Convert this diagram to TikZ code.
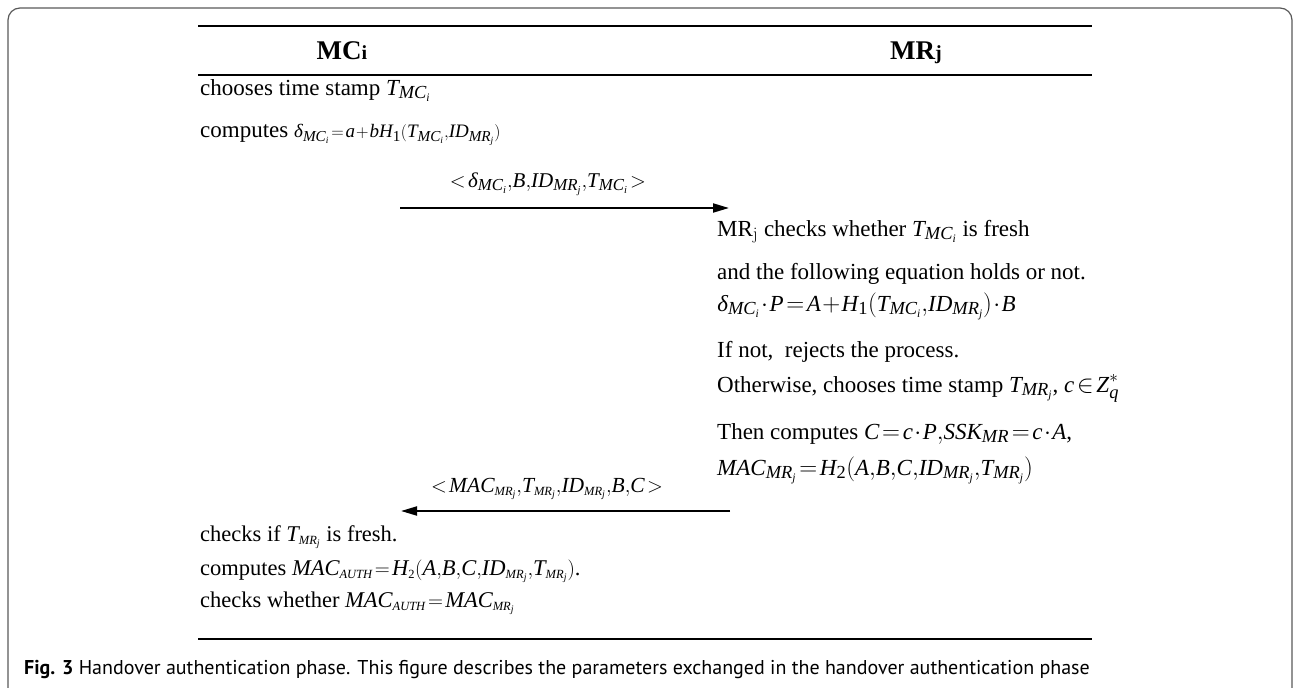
\documentclass[tikz,border=0pt]{standalone}
\usepackage{mathspec}
\setmainfont{Liberation Serif}
\setmathsfont(Digits,Latin,Greek){Liberation Serif}
\newfontfamily\capfont{PT Sans}
\renewcommand\defaultscriptratio{.8}
\DeclareMathSizes{22.5}{22.5}{12.5}{10}
\DeclareMathSizes{21.5}{21.5}{12.5}{10}
\usetikzlibrary{
  arrows.meta,
  positioning,
}
\newcommand\tightmath{\thinmuskip=0mu\medmuskip=1mu\thickmuskip=2mu}

\begin{document}
\begin{tikzpicture}[
  x=1pt, y=-1pt,
  every node/.style={inner sep=0pt},
  stepline/.style={anchor=base west, font=\fontsize{23}{27}\selectfont\tightmath},
  checkline/.style={anchor=base west, font=\fontsize{22.5}{27}\selectfont\tightmath},
  party/.style={anchor=base, font=\fontsize{27}{32}\selectfont\bfseries},
  msglabel/.style={anchor=base, font=\fontsize{21}{25}\selectfont\tightmath},
  rule/.style={line width=2.2pt},
  msg/.style={line width=2pt, -{Triangle[length=16pt,width=9pt]}},
  frame/.style={draw=gray!70!black, line width=1.2pt, rounded corners=12pt},
]
  \useasboundingbox (0,0) rectangle (1294,688);
  \draw[frame] (8,700) -- (8,8) -- (1292,8) -- (1292,700);

  % table rules
  \coordinate (top west) at (198,26);
  \coordinate (top east) at (1092,26);
  \coordinate (head west) at (198,75);
  \coordinate (head east) at (1092,75);
  \coordinate (foot west) at (198,639);
  \coordinate (foot east) at (1092,639);
  \draw[rule] (top west) -- (top east);
  \draw[rule] (head west) -- (head east);
  \draw[rule] (foot west) -- (foot east);

  % parties
  \node[party] (mc) at (342,59) {MC{\fontsize{20}{24}\selectfont i}};
  \node[party] (mr) at (916,59) {MR{\fontsize{20}{24}\selectfont j}};

  % MC side
  \node[stepline] (mc1) at (200,95) {chooses time stamp $T_{MC_i}$};
  \node[stepline] (mc2) at (200,137) {computes {\fontsize{19}{23}\selectfont$\delta_{MC_i} = a+bH_1(T_{MC_i},ID_{MR_j})$}};

  % first message
  \coordinate (m1 start) at (400,208);
  \coordinate (m1 end) at (729,208);
  \draw[msg] (m1 start) -- (m1 end);
  \node[msglabel] (m1) at (548,187) {$<\delta_{MC_i},B,ID_{MR_j},T_{MC_i}>$};

  % MR side
  \node[stepline] (mr1) at (717,236) {MR$_{\mathrm{j}}$ checks whether $T_{MC_i}$ is fresh};
  \node[stepline] (mr2) at (717,279) {and the following equation holds or not.};
  \node[stepline] (mr3) at (717,311) {$\delta_{MC_i}\cdot P = A + H_1(T_{MC_i},ID_{MR_j})\cdot B$};
  \node[stepline] (mr4) at (717,357) {If not,\ \ rejects the process.};
  \node[stepline] (mr5) at (717,392) {Otherwise, chooses time stamp $T_{MR_j}$, $c\in Z_q^{*}$};
  \node[stepline] (mr6) at (717,439) {Then computes $C=c\cdot P, SSK_{MR}= c\cdot A$,};
  \node[stepline] (mr7) at (717,475) {$MAC_{MR_j} = H_2(A,B,C,ID_{MR_j},T_{MR_j})$};

  % second message
  \coordinate (m2 start) at (730,511);
  \coordinate (m2 end) at (401,511);
  \draw[msg] (m2 start) -- (m2 end);
  \node[msglabel, font=\fontsize{21.5}{25}\selectfont\tightmath] (m2) at (547,492) {$< MAC_{MR_j},T_{MR_j},ID_{MR_j},B,C >$};

  % MC checks
  \node[checkline] (mc3) at (200,541) {checks if $T_{MR_j}$ is fresh.};
  \node[checkline] (mc4) at (200,575) {computes $MAC_{AUTH} = H_2(A,B,C,ID_{MR_j},T_{MR_j})$.};
  \node[checkline] (mc5) at (200,607) {checks whether $MAC_{AUTH} = MAC_{MR_j}$};

  % caption
  \node[anchor=mid west, font=\capfont\fontsize{20}{24}\selectfont] (cap) at (24,672)
    {\textbf{Fig. 3} Handover authentication phase. This figure describes the parameters exchanged in the handover authentication phase};
\end{tikzpicture}
\end{document}
